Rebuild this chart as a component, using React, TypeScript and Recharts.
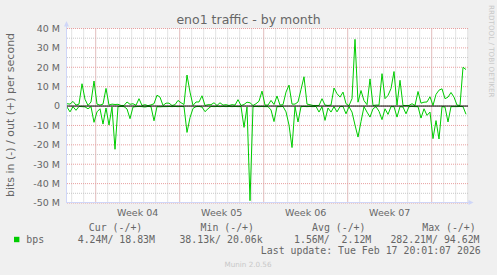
import React from 'react';
import { LineChart, Line, XAxis, YAxis, CartesianGrid, ReferenceLine } from 'recharts';

// bits per second, in millions; sampled every 6 hours
const OUT_MBPS = [
  1.2, 1.0, 2.4, 0.5, 1.0, 11.5, 3.5, 0.3, 2.1, 12.9,
  1.0, 0.5, 1.0, 9.1, 0.5, 1.0, 0.8, 0.9, 0.3, 0.3,
  2.1, 0.9, 1.2, 0.4, 3.8, 0.3, 0.7, 0.2, 0.6, 1.2,
  5.6, 4.6, 0.3, 1.5, 1.5, 0.3, 0.7, 2.9, 1.7, 0.8,
  16.0, 7.2, 0.3, 2.1, 2.1, 5.3, 0.3, 0.7, 0.7, 1.7,
  0.3, 1.7, 0.5, 0.7, 0.3, 0.7, 0.5, 3.3, 0.3, 0.8,
  2.0, 1.7, 0.3, 1.2, 2.5, 7.7, 0.5, 0.5, 2.9, 0.8,
  5.2, 0.5, 0.7, 7.2, 10.8, 1.0, 1.0, 2.1, 8.5, 15.1,
  1.0, 0.7, 0.3, 0.3, 0.3, 3.8, 0.5, 0.3, 0.5, 9.3,
  6.4, 4.6, 7.2, 1.2, 0.2, 3.8, 34.4, 2.0, 8.0, 2.8,
  0.7, 14.0, 0.3, 0.5, 0.5, 16.7, 3.8, 5.5, 9.0, 17.8,
  0.5, 13.3, 0.3, 0.3, 0.3, 1.2, 0.3, 7.5, 1.5, 2.0,
  2.1, 4.8, 0.3, 6.0, 8.2, 8.9, 3.8, 4.6, 7.0, 4.6,
  0.5, 0.3, 20.0, 18.83,
];
const IN_MBPS = [
  0.5, 3.0, 0.3, 2.2, 0.2, 0.3, 0.4, 1.4, 0.3, 8.4,
  3.0, 1.4, 9.3, 1.0, 9.8, 0.5, 22.3, 0.3, 0.2, 0.3,
  1.5, 6.5, 0.5, 0.3, 0.2, 0.3, 0.5, 0.2, 0.3, 7.6,
  0.3, 0.4, 0.3, 0.3, 0.2, 0.3, 0.2, 0.3, 0.2, 0.3,
  13.6, 6.0, 1.2, 0.3, 0.2, 0.5, 2.9, 1.4, 0.2, 0.3,
  0.2, 0.3, 0.2, 0.3, 0.2, 0.3, 0.2, 0.3, 0.2, 11.0,
  0.5, 48.8, 0.3, 0.2, 0.3, 0.2, 0.3, 0.3, 2.0, 8.0,
  0.3, 0.3, 0.2, 3.0, 9.8, 21.4, 0.3, 8.2, 0.3, 0.2,
  0.3, 0.2, 0.3, 0.2, 3.1, 0.3, 7.4, 1.0, 3.1, 0.3,
  3.0, 0.3, 0.2, 4.0, 0.3, 3.1, 9.8, 16.0, 8.0, 0.3,
  3.1, 5.7, 1.4, 0.3, 2.7, 7.0, 1.4, 4.3, 0.3, 0.3,
  5.7, 0.3, 0.5, 4.0, 0.3, 0.2, 0.3, 0.3, 6.2, 1.4,
  4.8, 3.1, 16.8, 7.5, 17.0, 0.3, 0.5, 8.2, 0.3, 0.3,
  0.3, 0.2, 0.3, 4.24,
];
const SAMPLE_STEP_DAYS = 0.25;
const SPAN_DAYS = 33.4167;

const WEEK_LABELS = ['Week 04', 'Week 05', 'Week 06', 'Week 07'];
const WEEK_LABEL_DAYS = [5.89, 12.89, 19.89, 26.89];
const WEEK_START_DAYS = [2.39, 9.39, 16.39, 23.39, 30.39];
const DAY_LINE_DAYS = [
  0.39, 1.39, 2.39, 3.39, 4.39, 5.39, 6.39, 7.39, 8.39, 9.39,
  10.39, 11.39, 12.39, 13.39, 14.39, 15.39, 16.39, 17.39, 18.39, 19.39,
  20.39, 21.39, 22.39, 23.39, 24.39, 25.39, 26.39, 27.39, 28.39, 29.39,
  30.39, 31.39, 32.39, 33.39,
];
const Y_MAJOR_M = [-50, -40, -30, -20, -10, 0, 10, 20, 30, 40];
const Y_MINOR_M = [-45, -35, -25, -15, -5, 5, 15, 25, 35];

const LEGEND_NAME = 'bps';
const LEGEND_HEADERS = ['Cur (-/+)', 'Min (-/+)', 'Avg (-/+)', 'Max (-/+)'];
const LEGEND_VALUES = ['4.24M/ 18.83M', '38.13k/ 20.06k', '1.56M/  2.12M', '282.21M/ 94.62M'];
const LAST_UPDATE = 'Last update: Tue Feb 17 20:01:07 2026';
const TITLE = 'eno1 traffic - by month';
const Y_LABEL = 'bits in (-) / out (+) per second';
const WATERMARK_SIDE = 'RRDTOOL / TOBI OETIKER';
const WATERMARK_BOTTOM = 'Munin 2.0.56';

const tableData = OUT_MBPS.map((v, i) => ({
  t: i * SAMPLE_STEP_DAYS,
  out: v,
  inNeg: -IN_MBPS[i],
}));

const W = 497;
const H = 275;
const PLOT_LEFT = 67;
const PLOT_TOP = 28.5;
const PLOT_RIGHT = 468;
const PLOT_BOTTOM = 203;
const X_AXIS_H = 20;

const FONT = "'DejaVu Sans', sans-serif";
const MONO = "'DejaVu Sans Mono', monospace";
const TXT = '#666666';
const AXIS_COL = '#CFD6F8';
const GREEN = '#00CC00';

const HEADER_X = [88.8, 200.5, 312, 422.2];
const VALUE_X = [77.7, 179.4, 294, 390.4];

export default function App() {
  return (
    <div style={{ position: 'fixed', left: 0, top: 0, width: W, height: H, background: '#F0F0F0' }}>
      <LineChart
        width={W}
        height={H}
        data={tableData}
        margin={{ top: PLOT_TOP, right: W - PLOT_RIGHT, bottom: H - PLOT_BOTTOM - X_AXIS_H, left: 0 }}
      >
        <CartesianGrid
          fill="#FFFFFF"
          stroke="#C8C8C8"
          strokeDasharray="1 1"
          horizontalValues={Y_MINOR_M}
          verticalValues={DAY_LINE_DAYS}
        />
        <CartesianGrid
          stroke="#E8A0A0"
          strokeDasharray="1 1"
          horizontalValues={Y_MAJOR_M}
          verticalValues={WEEK_START_DAYS}
        />
        <XAxis
          dataKey="t"
          type="number"
          domain={[0, SPAN_DAYS]}
          ticks={WEEK_LABEL_DAYS}
          interval={0}
          tickFormatter={(v: number) => WEEK_LABELS[WEEK_LABEL_DAYS.indexOf(v)] ?? ''}
          axisLine={false}
          tickLine={false}
          tickSize={4}
          tickMargin={2}
          height={X_AXIS_H}
          tick={{ fill: TXT, fontSize: 9.5, fontFamily: FONT }}
        />
        <YAxis
          type="number"
          domain={[-50, 40]}
          ticks={Y_MAJOR_M}
          interval={0}
          allowDataOverflow
          width={PLOT_LEFT}
          axisLine={false}
          tickLine={false}
          tickSize={5}
          tickMargin={2}
          tickFormatter={(v: number) => (v === 0 ? '0' : `${v} M`)}
          tick={{ fill: TXT, fontSize: 9.5, fontFamily: FONT }}
        />
        <Line type="linear" dataKey="out" stroke={GREEN} strokeWidth={1} dot={false} isAnimationActive={false} />
        <Line type="linear" dataKey="inNeg" stroke={GREEN} strokeWidth={1} dot={false} isAnimationActive={false} />
        <ReferenceLine y={0} stroke="#000000" strokeWidth={1} />
      </LineChart>
      <svg
        width={W}
        height={H}
        style={{ position: 'absolute', left: 0, top: 0, pointerEvents: 'none' }}
      >
        <line x1={66.5} y1={PLOT_BOTTOM} x2={66.5} y2={24} stroke={AXIS_COL} strokeWidth={1} />
        <polygon points="64,26.5 69,26.5 66.5,21" fill={AXIS_COL} />
        <line x1={66} y1={202.5} x2={470} y2={202.5} stroke={AXIS_COL} strokeWidth={1} />
        <polygon points="468.5,200 468.5,205 473.5,202.5" fill={AXIS_COL} />

        <text x={248.5} y={24.3} textAnchor="middle" fontFamily={FONT} fontSize={12.5} fill={TXT}>
          {TITLE}
        </text>
        <text
          x={0}
          y={0}
          transform="translate(13.8,115) rotate(-90)"
          textAnchor="middle"
          fontFamily={FONT}
          fontSize={11}
          fill={TXT}
        >
          {Y_LABEL}
        </text>
        <text
          x={0}
          y={0}
          transform="translate(489,5) rotate(90)"
          textAnchor="start"
          fontFamily={FONT}
          fontSize={7.2}
          fill="#C8C8C8"
        >
          {WATERMARK_SIDE}
        </text>

        {LEGEND_HEADERS.map((h, i) => (
          <text key={h} x={HEADER_X[i]} y={231.3} fontFamily={MONO} fontSize={9.9} fill={TXT} xmlSpace="preserve" style={{ whiteSpace: 'pre' }}>
            {h}
          </text>
        ))}
        <rect x={14} y={236.8} width={5.4} height={5.4} fill={GREEN} />
        <text x={26.3} y={242.5} fontFamily={MONO} fontSize={9.9} fill={TXT}>
          {LEGEND_NAME}
        </text>
        {LEGEND_VALUES.map((v, i) => (
          <text key={v} x={VALUE_X[i]} y={242.5} fontFamily={MONO} fontSize={9.9} fill={TXT} xmlSpace="preserve" style={{ whiteSpace: 'pre' }}>
            {v}
          </text>
        ))}
        <text x={260.8} y={254} fontFamily={MONO} fontSize={9.9} fill={TXT}>
          {LAST_UPDATE}
        </text>
        <text x={248} y={266.7} textAnchor="middle" fontFamily={FONT} fontSize={7.2} fill="#C8C8C8">
          {WATERMARK_BOTTOM}
        </text>
      </svg>
    </div>
  );
}
